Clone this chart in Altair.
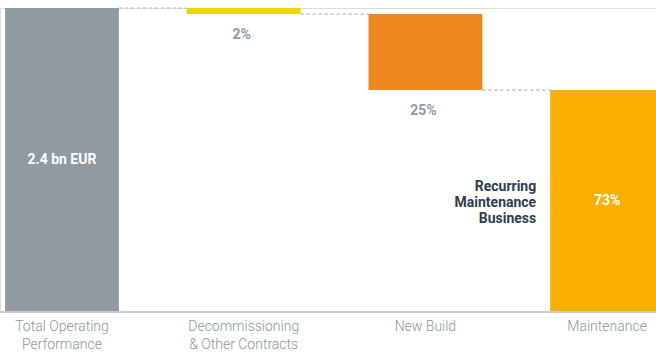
import altair as alt
import pandas as pd

categories = ["Total Operating\nPerformance", "Decommissioning\n& Other Contracts", "New Build", "Maintenance"]
values = [100, 2, 25, 73]
value_labels = ["2.4 bn EUR", "2%", "25%", "73%"]
label_inside = [True, False, False, True]
colors = ["#8f9aa1", "#f5d100", "#ef871f", "#f9ae00"]
annotation = "Recurring\nMaintenance\nBusiness"

# waterfall levels
rows = []
level = 0
for i, (c, v, lab, ins, col) in enumerate(zip(categories, values, value_labels, label_inside, colors)):
    if i == 0:
        start, end = 0, v
    else:
        start, end = level, level - v
    level = end
    rows.append(dict(idx=i, cat=c, start=start, end=end, lab=lab, inside=ins, col=col,
                     lo=min(start, end), hi=max(start, end)))
df = pd.DataFrame(rows)
conn = pd.DataFrame([dict(idx=r["idx"], lvl=r["end"] if r["idx"] > 0 else r["hi"]) for r in rows[:-1]])

HALF = 0.3132
W, H = 656, 304
xscale = alt.Scale(domain=[-62 / 181.7, (W - 62) / 181.7], nice=False, zero=False)
yscale = alt.Scale(domain=[0, 100], nice=False)

base = alt.Chart(df)

bars = base.transform_calculate(x0=f"datum.idx - {HALF}", x1=f"datum.idx + {HALF}").mark_bar(clip=True).encode(
    x=alt.X("x0:Q", scale=xscale, axis=None),
    x2="x1:Q",
    y=alt.Y("lo:Q", scale=yscale, axis=None),
    y2="hi:Q",
    color=alt.Color("col:N", scale=None),
)

connectors = alt.Chart(conn).transform_calculate(
    x0=f"datum.idx + {HALF}", x1=f"datum.idx + 1 - {HALF}"
).mark_rule(strokeDash=[3, 3], color="#aeb6bb", strokeWidth=1.2).encode(
    x=alt.X("x0:Q", scale=xscale), x2="x1:Q", y=alt.Y("lvl:Q", scale=yscale)
)

baseline = alt.Chart(df).mark_rule(color="#c8cdd0", strokeWidth=1.5).encode(
    x=alt.value(0), x2=alt.value(W), y=alt.datum(0, scale=yscale)
)

inside = base.transform_filter("datum.inside").transform_calculate(
    mid="(datum.lo + datum.hi) / 2"
).mark_text(font="Roboto", fontWeight="bold", fontSize=14, color="white", baseline="middle").encode(
    x=alt.X("idx:Q", scale=xscale), y=alt.Y("mid:Q", scale=yscale), text="lab:N"
)

outside = base.transform_filter("!datum.inside").mark_text(
    font="Roboto", fontWeight="bold", fontSize=14, color="#8f9aa1", baseline="middle", dy=21, dx=-2
).encode(x=alt.X("idx:Q", scale=xscale), y=alt.Y("lo:Q", scale=yscale), text="lab:N")

annot = base.transform_filter("datum.idx == 3").transform_calculate(
    mid="(datum.lo + datum.hi) / 2", xl=f"datum.idx - {HALF}"
).mark_text(
    font="Roboto", fontWeight="bold", fontSize=14, color="#2d3e4f", align="right", baseline="middle",
    lineBreak="\n", lineHeight=16, dx=-14, dy=-14, text=annotation
).encode(x=alt.X("xl:Q", scale=xscale), y=alt.Y("mid:Q", scale=yscale))

catlabels = base.mark_text(
    font="Roboto", fontWeight=300, fontSize=14, color="#8c979d", baseline="top", lineBreak="\n",
    lineHeight=18, dy=8
).encode(x=alt.X("idx:Q", scale=xscale), y=alt.datum(0, scale=yscale), text="cat:N")

chart = alt.layer(bars, connectors, baseline, inside, outside, annot, catlabels).properties(
    width=W, height=H, padding={"top": 8, "left": 0, "right": 0, "bottom": 41},
    autosize=alt.AutoSizeParams(type="none"),
).configure_view(stroke=None).configure(background="white")

chart.save("out.html", embed_options={"renderer": "svg", "actions": False})
